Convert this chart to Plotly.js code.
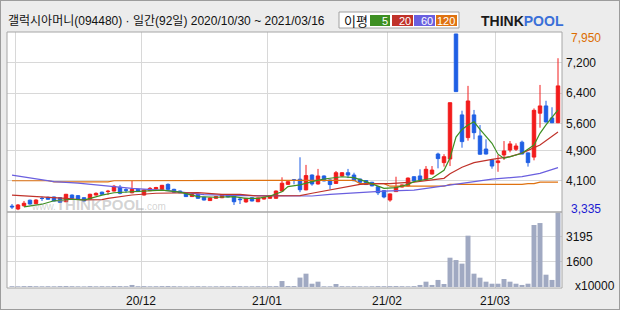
<!DOCTYPE html>
<html><head><meta charset="utf-8">
<script src="https://cdn.plot.ly/plotly-3.0.1.min.js"></script>
<style>
html,body{margin:0;padding:0;background:#ececec;}
#wrap{position:relative;width:620px;height:310px;overflow:hidden;}
#chart{position:absolute;left:0;top:0;width:620px;height:310px;}
#frame{position:absolute;left:0;top:0;width:618px;height:308px;border:1px solid #9c9c9c;pointer-events:none;}
</style></head><body>
<div id="wrap"><div id="chart"></div><div id="frame"></div></div>
<script>
// ---- data ----
const dates = [
"2020-10-30",
"2020-11-02","2020-11-03","2020-11-04","2020-11-05","2020-11-06","2020-11-09","2020-11-10","2020-11-11","2020-11-12","2020-11-13",
"2020-11-16","2020-11-17","2020-11-18","2020-11-19","2020-11-20","2020-11-23","2020-11-24","2020-11-25","2020-11-26","2020-11-27","2020-11-30",
"2020-12-01","2020-12-02","2020-12-03","2020-12-04","2020-12-07","2020-12-08","2020-12-09","2020-12-10","2020-12-11","2020-12-14",
"2020-12-15","2020-12-16","2020-12-17","2020-12-18","2020-12-21","2020-12-22","2020-12-23","2020-12-24","2020-12-28","2020-12-29","2020-12-30",
"2021-01-04","2021-01-05","2021-01-06","2021-01-07","2021-01-08","2021-01-11","2021-01-12","2021-01-13","2021-01-14","2021-01-15",
"2021-01-18","2021-01-19","2021-01-20","2021-01-21","2021-01-22","2021-01-25","2021-01-26","2021-01-27","2021-01-28","2021-01-29",
"2021-02-01","2021-02-02","2021-02-03","2021-02-04","2021-02-05","2021-02-08","2021-02-09","2021-02-10","2021-02-15","2021-02-16",
"2021-02-17","2021-02-18","2021-02-19","2021-02-22","2021-02-23","2021-02-24","2021-02-25","2021-02-26",
"2021-03-02","2021-03-03","2021-03-04","2021-03-05","2021-03-08","2021-03-09","2021-03-10","2021-03-11","2021-03-12","2021-03-15","2021-03-16"
];
const openP = [3440,3365,3450,3595,3505,3645,3670,3680,3660,3555, 3730,3715,3660,3625,3730,3805,3820,3835,3935,3870,
 3790,3880,3730,3845,3890,3880,4010,3880,3835,3775, 3690,3750,3670,3585,3645,3660,3730,3715,3625,3550,
 3660,3555,3625,3645,3645,3835,4010,4130,4145,3865, 4255,4020,4230,4125,4035,4230,4315,4255,4150,4110,
 4065,3950,3845,3600,3820,3940,3970,4210,4230,4145, 4280,4805,4580,4675,7950,5830,5235,5830,5280,4935,
 4650,4580,4780,4910,4930,5115,4835,4725,5875,6065, 5750,5625];
const highP = [3495,3495,3575,3610,3620,3690,3690,3690,3670,3760, 3745,3730,3670,3765,3800,3820,3865,3995,3995,3910,
 4100,3895,3875,3940,3945,3995,4035,3895,3845,3785, 3760,3760,3680,3665,3700,3750,3740,3725,3670,3655,
 3670,3665,3680,3710,3850,4195,4095,4150,4720,4520, 4270,4415,4245,4140,4360,4330,4415,4315,4160,4120,
 4075,3960,3855,3770,4210,4005,4190,4220,4405,4490, 4490,4840,4800,6150,7950,5940,6590,5960,5565,5190,
 4660,4780,5145,5145,5085,5155,4845,6000,6615,6200, 6030,7315];
const lowP = [3365,3335,3425,3480,3490,3575,3610,3570,3530,3545, 3635,3610,3565,3615,3720,3740,3730,3825,3750,3790,
 3775,3810,3720,3835,3880,3870,3865,3795,3780,3680, 3680,3635,3590,3575,3635,3650,3670,3470,3495,3530,
 3565,3545,3615,3635,3635,3825,4000,4010,3805,3855, 3975,4005,4090,3880,4020,4220,4175,4095,4050,3995,
 3960,3730,3645,3555,3810,3930,3960,4095,4115,4130, 4270,4430,4475,4490,6440,4970,5155,5190,4790,4795,
 4420,4340,4650,4850,4885,4800,4475,4640,5495,5630, 5615,5615];
const closeP = [3420,3470,3515,3495,3600,3640,3620,3575,3540,3750, 3645,3620,3575,3750,3775,3750,3830,3960,3775,3855,
 3880,3820,3865,3905,3925,3985,3880,3805,3790,3690, 3750,3645,3600,3655,3690,3740,3680,3555,3610,3645,
 3575,3655,3670,3700,3835,4040,4080,4120,3870,4240, 4020,4230,4100,4005,4315,4315,4255,4105,4065,4005,
 3970,3790,3680,3760,3940,3995,4175,4105,4125,4405, 4385,4685,4735,6150,6440,5130,6195,5365,4800,4805,
 4490,4625,4885,5070,5015,4805,4580,5950,6065,5645, 5625,6590];
const volume = [50,45,55,60,50,45,50,45,55,60, 50,45,40,55,45,50,45,60,55,50,
 130,50,55,45,50,55,60,50,45,40, 45,50,45,40,45,50,45,55,50,45,
 45,50,45,50,55,380,60,60,600,850, 210,340,45,45,190,50,45,50,45,40,
 45,55,50,55,60,50,45,55,130,340, 130,450,190,1870,1720,1490,3275,850,595,340,
 210,210,510,340,210,130,210,3955,4080,785, 450,4750];

// moving-average lines (day index, price)
const ma5Idx = [2,5,7,10,12,15,17,20,23,25,28,31,34,37,39,41,43,45,46,48,50,52,55,57,59,61,62,64,66,67,70,72,73,74,75,76,77,78,80,81,82,84,85,87,88,89,91];
const ma5Val = [3420,3490,3580,3620,3600,3730,3790,3820,3850,3860,3805,3690,3672,3690,3645,3645,3705,3818,3950,3995,4080,4150,4210,4185,4080,3950,3905,3925,4010,4080,4170,4380,4700,5250,5450,5566,5650,5450,5087,4800,4690,4780,4825,5042,5348,5566,5960];
const ma20Idx = [0,3,9,12,15,16,18,20,24,31,35,38,41,42,46,48,50,52,54,56,58,61,63,66,67,69,72,73,75,77,80,83,85,88,91];
const ma20Val = [3730,3705,3645,3600,3610,3645,3687,3732,3777,3792,3750,3750,3705,3705,3714,3714,3777,3837,3889,3949,4012,4030,4030,4060,4065,4106,4168,4290,4458,4578,4667,4736,4830,5042,5380];
const ma60Idx = [0,5,7,11,16,20,26,29,32,38,44,50,53,57,62,67,71,74,77,80,85,88,91];
const ma60Val = [4250,4125,4080,4045,3975,3905,3845,3795,3740,3715,3705,3705,3750,3790,3835,3860,3945,4020,4080,4145,4215,4300,4450];
const ma120Idx = [0,6,7,16,17,24,25,57,58,62,63,72,73,85,86,87,88,91];
const ma120Val = [4105,4105,4075,4075,4105,4105,4118,4118,4030,4030,3962,3962,4010,4010,4030,4030,4070,4070];

const monthLabels = ['', '20/12', '21/01', '21/02', '21/03'];
const titleText = '갤럭시아머니(094480) · 일간(92일) 2020/10/30 ~ 2021/03/16';
const priceTicks = [7200, 6400, 5600, 4900, 4100];
const volTicks = [3195, 1600];
const maNames = ['5', '20', '60', '120'];

// ---- styles / geometry ----
const RED = '#f21c1c', BLUE = '#1f5fe4';
const MA_COL = ['#3d8f22', '#c0322a', '#6a5fdf', '#df7210'];
const GRID = '#d8d8d8';
const W = 620, H = 310, ML = 7, MR = 58, MT = 32, MB = 22;
const PW = W - ML - MR, PH = H - MT - MB;
const px = x => (x - ML) / PW;
const py = y => (H - MB - y) / PH;
const volFrac = 76 / PH;

const idx = dates.map((d, i) => i);
const tickPos = [];
for (let i = 1; i < dates.length; i++) {
  if (dates[i].slice(5, 7) !== dates[i - 1].slice(5, 7)) tickPos.push(i - 0.5);
}
const fmt = v => v.toLocaleString('en-US');
const maxHigh = Math.max(...highP), minLow = Math.min(...lowP);

const traces = [
  {type: 'candlestick', x: idx, open: openP, high: highP, low: lowP, close: closeP,
   increasing: {line: {color: RED, width: 1}, fillcolor: RED},
   decreasing: {line: {color: BLUE, width: 1}, fillcolor: BLUE},
   whiskerwidth: 0, xaxis: 'x', yaxis: 'y', hoverinfo: 'skip'},
  {type: 'scatter', mode: 'lines', x: ma120Idx, y: ma120Val, line: {color: MA_COL[3], width: 1.2}, xaxis: 'x', yaxis: 'y'},
  {type: 'scatter', mode: 'lines', x: ma60Idx, y: ma60Val, line: {color: MA_COL[2], width: 1.2}, xaxis: 'x', yaxis: 'y'},
  {type: 'scatter', mode: 'lines', x: ma20Idx, y: ma20Val, line: {color: MA_COL[1], width: 1.2}, xaxis: 'x', yaxis: 'y'},
  {type: 'scatter', mode: 'lines', x: ma5Idx, y: ma5Val, line: {color: MA_COL[0], width: 1.2}, xaxis: 'x', yaxis: 'y'},
  {type: 'bar', x: idx, y: volume, marker: {color: '#a0a9c2', line: {width: 0}}, xaxis: 'x', yaxis: 'y2'}
];

const tickFont = {family: 'Liberation Sans, Arial, sans-serif', size: 12, color: '#111'};

const shapes = [
  {type: 'rect', xref: 'paper', yref: 'paper', x0: 0, x1: 1, y0: 0, y1: 1, line: {color: '#a6a6a6', width: 1}},
  {type: 'line', xref: 'paper', yref: 'paper', x0: 0, x1: 1, y0: volFrac, y1: volFrac, line: {color: '#a6a6a6', width: 1.5}},
  {type: 'rect', xref: 'paper', yref: 'paper', x0: px(339), x1: px(459), y0: py(28), y1: py(12), fillcolor: '#fff', line: {color: '#a0a0a0', width: 1}}
];
const boxX = [[370, 390], [392, 413], [414, 435], [436, 457]];
const annotations = [
  {text: titleText, xref: 'paper', yref: 'paper', x: px(6), y: py(21), xanchor: 'left', yanchor: 'middle', showarrow: false,
   font: {family: 'Liberation Sans, Noto Sans CJK KR, sans-serif', size: 12, color: '#111'}},
  {text: '이평', xref: 'paper', yref: 'paper', x: px(356), y: py(20), xanchor: 'center', yanchor: 'middle', showarrow: false,
   font: {family: 'Noto Sans CJK KR, sans-serif', size: 13, color: '#111'}},
  {text: '<b>THINK</b><b><span style="color:#3a6fd8">POOL</span></b>', xref: 'paper', yref: 'paper', x: px(479), y: py(21),
   xanchor: 'left', yanchor: 'middle', showarrow: false, font: {family: 'Liberation Sans, Arial, sans-serif', size: 14, color: '#1a1a1a'}},
  {text: fmt(maxHigh), xref: 'paper', yref: 'y', x: px(569), y: maxHigh, yshift: -4, xanchor: 'left', yanchor: 'middle', showarrow: false,
   font: {family: 'Liberation Sans, Arial, sans-serif', size: 12, color: '#dc6c00'}},
  {text: fmt(minLow), xref: 'paper', yref: 'y', x: px(569), y: minLow, yshift: 1, xanchor: 'left', yanchor: 'middle', showarrow: false,
   font: {family: 'Liberation Sans, Arial, sans-serif', size: 12, color: '#1c1cd2'}},
  {text: 'x10000', xref: 'paper', yref: 'paper', x: px(573), y: py(286), xanchor: 'left', yanchor: 'middle', showarrow: false,
   font: {family: 'Liberation Sans, Arial, sans-serif', size: 12, color: '#111'}},
  {text: '<span style="font-size:10px">www.</span><b>THINKPOOL</b><span style="font-size:10px">.com</span>', xref: 'paper', yref: 'paper',
   x: px(29), y: py(204), xanchor: 'left', yanchor: 'middle', showarrow: false,
   font: {family: 'Liberation Sans, Arial, sans-serif', size: 15, color: 'rgba(150,150,150,0.42)'}}
];
boxX.forEach((b, k) => {
  shapes.push({type: 'rect', xref: 'paper', yref: 'paper', x0: px(b[0]), x1: px(b[1]), y0: py(26), y1: py(15), fillcolor: MA_COL[k], line: {width: 0}});
  annotations.push({text: maNames[k], xref: 'paper', yref: 'paper', x: px(b[1]), y: py(20.5), xanchor: 'right', yanchor: 'middle', showarrow: false,
    font: {family: 'Liberation Sans Narrow, Liberation Sans, Arial, sans-serif', size: 11, color: '#fff'}});
});

const layout = {
  width: W, height: H, margin: {l: ML, r: MR, t: MT, b: MB, pad: 0},
  paper_bgcolor: '#ececec', plot_bgcolor: '#ffffff', showlegend: false,
  hovermode: false, dragmode: false, boxgap: 0.18, bargap: 0.17,
  xaxis: {range: [-0.833, 91.667], tickvals: tickPos, ticktext: monthLabels, showgrid: true, gridcolor: GRID, gridwidth: 1,
          zeroline: false, showline: false, ticks: '', tickfont: tickFont, ticklabelstandoff: 4, anchor: 'y2', rangeslider: {visible: false}, fixedrange: true},
  yaxis: {domain: [volFrac, 1], range: [3286, 8002], side: 'right', tickvals: priceTicks, ticktext: priceTicks.map(fmt),
          showgrid: true, gridcolor: GRID, gridwidth: 1, zeroline: false, showline: false, ticks: '', ticklabelstandoff: 3,
          tickfont: tickFont, fixedrange: true},
  yaxis2: {domain: [0, volFrac], range: [-64, 4785], side: 'right', tickvals: volTicks, ticktext: volTicks.map(String),
           showgrid: true, gridcolor: GRID, gridwidth: 1, zeroline: false, showline: false, ticks: '', ticklabelstandoff: 3,
           tickfont: tickFont, fixedrange: true},
  shapes: shapes, annotations: annotations
};
Plotly.newPlot('chart', traces, layout, {staticPlot: true, displayModeBar: false});
</script>
</body></html>
